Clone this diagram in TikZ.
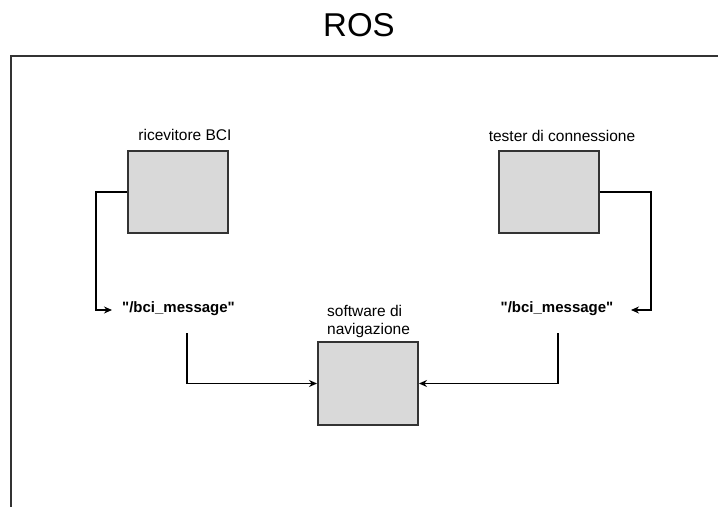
\documentclass[tikz,border=0pt]{standalone}
\usepackage{fontspec}
\setmainfont{Liberation Sans}[Ligatures=TeXOff]
\usetikzlibrary{arrows.meta}
\definecolor{boxfill}{HTML}{D9D9D9}
\definecolor{boxline}{HTML}{333333}
\tikzset{
  proc/.style={draw=boxline, line width=2pt, fill=boxfill, minimum width=100pt, minimum height=82pt, inner sep=0pt},
  lbl/.style={font=\fontsize{15.5}{18}\selectfont, inner sep=0pt},
  topic/.style={font=\fontsize{15}{18}\selectfont\bfseries, inner sep=0pt},
  conn/.style={draw=black, line width=1.3pt},
  arr/.style={conn, -{Stealth[length=8pt,width=7pt]}}
}
\begin{document}
\begin{tikzpicture}[x=1pt,y=-1pt]
\useasboundingbox (0,0) rectangle (718,507);
\node[font=\fontsize{33}{36}\selectfont, inner sep=0pt] (title) at (359,25) {ROS};
\draw[draw=boxline, line width=1.6pt] (718,56) -- (11,56) -- (11,507);

\node[proc] (rec) at (178,192) {};
\node[proc] (tes) at (548.5,192) {};
\node[proc, minimum height=83pt] (nav) at (368,383.5) {};

\node[lbl] (reclab) at (185,135) {ricevitore BCI};
\node[lbl] (teslab) at (562,136) {tester di connessione};
\node[lbl, align=left, anchor=west] (navlab) at (327,321) {software di\\navigazione};

\node[topic] (t1) at (178.5,309) {"/bci\_message"};
\node[topic] (t2) at (557,309) {"/bci\_message"};

\coordinate (a1) at (96,192);
\coordinate (a1e) at (112,310);
\coordinate (a2) at (651,192);
\coordinate (a2e) at (631,310);
\coordinate (s1) at (187,333);
\coordinate (s2) at (558,333);

\draw[arr] (rec.west) -- (a1) |- (a1e);
\draw[arr] (tes.east) -- (a2) |- (a2e);
\draw[arr] (s1) |- (nav.west);
\draw[arr] (s2) |- (nav.east);
\end{tikzpicture}
\end{document}
